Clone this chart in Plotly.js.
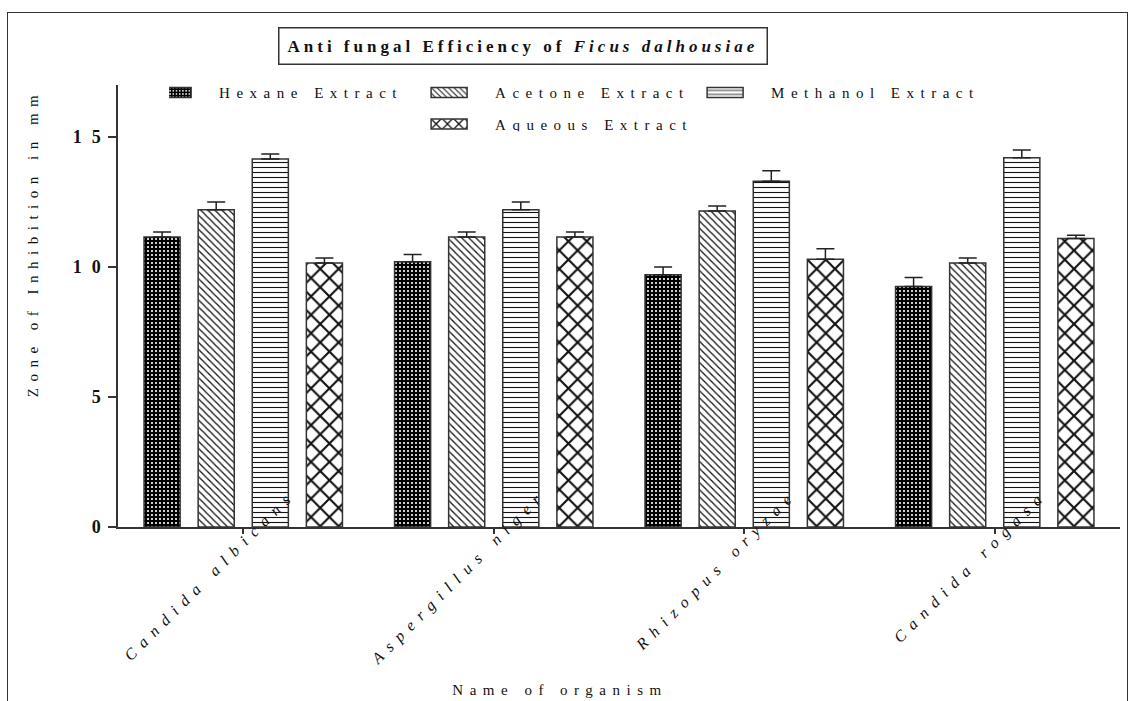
<!DOCTYPE html>
<html>
<head>
<meta charset="utf-8">
<script src="https://cdn.plot.ly/plotly-3.0.1.min.js"></script>
<style>
  html, body { margin: 0; padding: 0; background: #fff; }
  #chart { width: 1134px; height: 701px; }
  #frame {
    position: absolute; left: 7px; top: 12px; width: 1119px; height: 700px;
    border: 1.5px solid #333; border-bottom: none; pointer-events: none;
  }
  /* widely tracked lettering used throughout the figure */
  .annotation-text { letter-spacing: 4px; }
  .legendtext { letter-spacing: 6.5px; }
  .xtitle, .ytitle { letter-spacing: 6.5px; }
  .xtick text { letter-spacing: 7.6px; }
  .ytick text { letter-spacing: 10px; }
</style>
</head>
<body>
<div id="chart"></div>
<div id="frame"></div>
<script>
// Zone of inhibition (mm) for each extract against each organism, mean and SEM
const organisms = ['Candida albicans', 'Aspergillus niger', 'Rhizopus oryzae', 'Candida rogasa'];
const hexane = [11.15, 10.2, 9.7, 9.25];
const hexaneErr = [0.2, 0.28, 0.3, 0.35];
const acetone = [12.2, 11.15, 12.15, 10.15];
const acetoneErr = [0.3, 0.2, 0.2, 0.2];
const methanol = [14.15, 12.2, 13.3, 14.2];
const methanolErr = [0.2, 0.3, 0.4, 0.3];
const aqueous = [10.15, 11.15, 10.3, 11.1];
const aqueousErr = [0.2, 0.2, 0.4, 0.12];
const yTicks = [0, 5, 10, 15];

const SERIF = '"Liberation Serif", "Times New Roman", serif';

// legend columns: the aqueous entry sits beneath the acetone entry
function barTrace(name, y, err, pattern, column) {
  return {
    type: 'bar', name: name, x: organisms, y: y,
    legendgroup: column,
    marker: {
      color: 'white',
      line: { color: '#333', width: 1.5 },
      pattern: pattern
    },
    error_y: {
      type: 'data', symmetric: false, array: err, arrayminus: err.map(() => 0),
      color: '#222', thickness: 1.5, width: 9
    },
    hoverinfo: 'x+y+name'
  };
}

const traces = [
  barTrace('Hexane Extract', hexane, hexaneErr,
    { shape: '.', fgcolor: 'white', bgcolor: 'black', size: 4, solidity: 0.22, fillmode: 'replace' }, 'c1'),
  barTrace('Acetone Extract', acetone, acetoneErr,
    { shape: '\\', fgcolor: '#111', bgcolor: 'white', size: 5, solidity: 0.25, fillmode: 'replace' }, 'c2'),
  barTrace('Methanol Extract', methanol, methanolErr,
    { shape: '-', fgcolor: '#111', bgcolor: 'white', size: 5, solidity: 0.22, fillmode: 'replace' }, 'c3'),
  barTrace('Aqueous Extract', aqueous, aqueousErr,
    { shape: 'x', fgcolor: '#111', bgcolor: 'white', size: 13, solidity: 0.3, fillmode: 'replace' }, 'c2')
];

const layout = {
  width: 1134, height: 701,
  margin: { l: 118, r: 14, t: 85, b: 174 },
  paper_bgcolor: 'white', plot_bgcolor: 'white',
  font: { family: SERIF, color: '#111' },
  barmode: 'group', bargap: 0.136, bargroupgap: 0.333,
  showlegend: true,
  legend: {
    x: 0.051, y: 1.02, xanchor: 'left', yanchor: 'top',
    orientation: 'h', traceorder: 'grouped', tracegroupgap: 0,
    font: { family: SERIF, size: 15, color: '#111' },
    bgcolor: 'rgba(0,0,0,0)', borderwidth: 0,
    itemwidth: 40, entrywidth: 221, entrywidthmode: 'pixels',
    itemclick: false, itemdoubleclick: false
  },
  xaxis: {
    type: 'category', range: [-0.5, 3.5],
    showline: true, linecolor: '#333', linewidth: 1.5,
    ticks: 'outside', ticklen: 5, tickwidth: 1.5, tickcolor: '#333',
    tickangle: -45,
    ticklabelshift: 48, ticklabelstandoff: -55,
    tickfont: { family: SERIF, size: 16, style: 'italic', color: '#111' },
    showgrid: false, zeroline: false, fixedrange: true,
    title: { text: 'Name of organism', font: { family: SERIF, size: 15, color: '#111' }, standoff: 17 }
  },
  yaxis: {
    range: [0, 17], tickvals: yTicks, ticktext: yTicks.map(String),
    showline: true, linecolor: '#333', linewidth: 1.5,
    ticks: 'outside', ticklen: 8, tickwidth: 1.5, tickcolor: '#333',
    ticklabelstandoff: -6,
    tickfont: { family: SERIF, size: 18, weight: 'bold', color: '#111' },
    showgrid: false, zeroline: false, fixedrange: true,
    title: { text: 'Zone of Inhibition in mm', font: { family: SERIF, size: 15, color: '#111' }, standoff: 30 }
  },
  annotations: [{
    xref: 'paper', yref: 'paper', x: 0.404, y: 1.089, xanchor: 'center', yanchor: 'middle',
    showarrow: false,
    text: 'Anti fungal Efficiency of <i>Ficus dalhousiae</i>',
    font: { family: SERIF, size: 17, weight: 'bold', color: '#111' },
    bordercolor: '#333', borderwidth: 1.5, borderpad: 8, bgcolor: 'white'
  }]
};

Plotly.newPlot('chart', traces, layout, { displayModeBar: false, responsive: false }).then(gd => {
  // wide, flat legend swatches
  gd.querySelectorAll('.legendpoints path').forEach(p => p.setAttribute('d', 'M-3,5H-39V-5H-3Z'));
  // looser line spacing for the second legend row
  gd.querySelectorAll('.legend .traces').forEach(g => {
    const t = g.querySelector('.legendtext');
    if (t && t.getAttribute('data-unformatted') === 'Aqueous Extract') {
      g.setAttribute('transform', (g.getAttribute('transform') || '') + ' translate(0,9)');
    }
  });
  // axis titles sit off-centre along their axes
  const xt = gd.querySelector('.xtitle');
  if (xt) xt.setAttribute('transform', 'translate(-59,0) ' + (xt.getAttribute('transform') || ''));
  const yt = gd.querySelector('.ytitle');
  if (yt) yt.setAttribute('transform', 'translate(0,-63) ' + (yt.getAttribute('transform') || ''));
});
</script>
</body>
</html>
